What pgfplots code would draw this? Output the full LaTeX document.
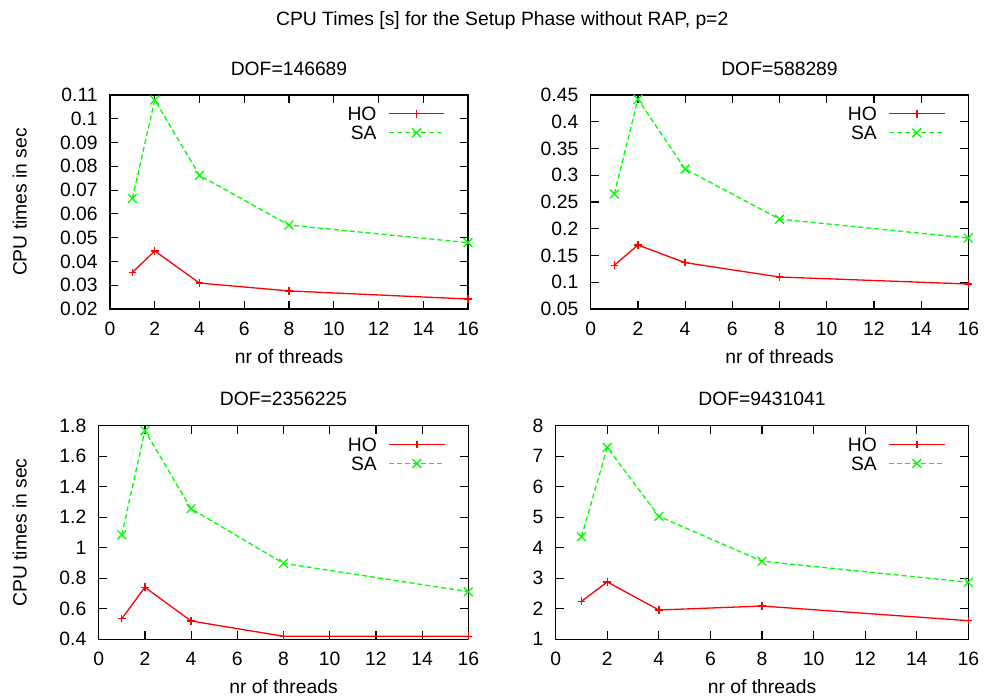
\documentclass[border=0pt]{standalone}
\usepackage{fontspec}
\setmainfont{Liberation Sans}
\usepackage{pgfplots}
\pgfplotsset{compat=1.18}
\definecolor{gpred}{RGB}{255,0,0}
\definecolor{gpgreen}{RGB}{0,255,0}
\pgfplotsset{
  gp/.style={
    scale only axis,
    clip=false,
    xmin=0, xmax=16,
    xtick={0,2,4,6,8,10,12,14,16},
    xticklabels={0,2,4,6,8,10,12,14,16},
    tick align=inside,
    major tick length=4pt,
    minor tick num=0,
    axis line style={line width=0.6pt},
    every tick/.style={black, line width=0.6pt},
    xticklabel style={anchor=base, yshift=-13.3pt, inner sep=0pt},
    yticklabel style={anchor=east, xshift=-6pt, inner sep=0pt},
    /pgf/number format/assume math mode=true,
    xlabel={nr of threads},
    xlabel style={at={([yshift=-27.15pt]axis description cs:0.5,0)}, anchor=base},
    title style={at={([yshift=3.95pt]axis description cs:0.5,1)}, anchor=base, inner sep=0pt},
    legend plot pos=right,
    legend cell align=right,
    legend style={draw=none, fill=none, inner sep=0pt, outer sep=0pt,
      at={(1,1)}, anchor=north east, xshift=-11.5pt, yshift=-5.9pt,
      row sep=2.5pt, column sep=0pt,
      nodes={inner sep=0pt, text height=7pt, text depth=0pt},
      /tikz/every odd column/.style={column sep=5.8pt}},
    legend image code/.code={\draw[mark repeat=2,mark phase=2,##1] plot coordinates {(0pt,0pt) (13.9pt,0pt) (27.8pt,0pt)};},
  },
  ho/.style={draw=gpred, color=gpred, line width=0.65pt, mark=+, mark size=1.9pt, mark options={solid, draw=gpred}},
  sa/.style={draw=gpgreen, color=gpgreen, line width=0.65pt, dash pattern=on 2.5pt off 1.5pt, mark=x, mark size=3.1pt, mark options={solid, draw=gpgreen}},
}
\begin{document}
\fontsize{9.65pt}{11.5pt}\selectfont
\begin{tikzpicture}
\path[use as bounding box] (0pt,0pt) rectangle (492pt,349.5pt);
\node[anchor=base] at (251.1pt,336.85pt) {CPU Times [s] for the Setup Phase without RAP, p=2};

\begin{axis}[gp, at={(55pt,195pt)}, anchor=south west, width=179pt, height=107pt,
  title={DOF=146689},
  ymin=0.02, ymax=0.11,
  ytick={0.02,0.03,0.04,0.05,0.06,0.07,0.08,0.09,0.1,0.11},
  yticklabels={0.02,0.03,0.04,0.05,0.06,0.07,0.08,0.09,0.1,0.11},
  ylabel={CPU times in sec},
  ylabel style={at={([xshift=-41.75pt]axis description cs:0,0.5)}, anchor=base},
]
\addplot[ho] coordinates {(1,0.0354) (2,0.0444) (4,0.0309) (8,0.0276) (16,0.0242)};
\addlegendentry{HO}
\addplot[sa] coordinates {(1,0.0665) (2,0.1079) (4,0.0762) (8,0.0553) (16,0.0479)};
\addlegendentry{SA}
\end{axis}

\begin{axis}[gp, at={(295.35pt,195pt)}, anchor=south west, width=188.8pt, height=107pt,
  title={DOF=588289},
  ymin=0.05, ymax=0.45,
  ytick={0.05,0.1,0.15,0.2,0.25,0.3,0.35,0.4,0.45},
  yticklabels={0.05,0.1,0.15,0.2,0.25,0.3,0.35,0.4,0.45},
]
\addplot[ho] coordinates {(1,0.1317) (2,0.1696) (4,0.1366) (8,0.1098) (16,0.0967)};
\addlegendentry{HO}
\addplot[sa] coordinates {(1,0.265) (2,0.442) (4,0.3117) (8,0.218) (16,0.1827)};
\addlegendentry{SA}
\end{axis}

\begin{axis}[gp, at={(49.35pt,29.85pt)}, anchor=south west, width=184.8pt, height=106.8pt,
  title={DOF=2356225},
  ymin=0.4, ymax=1.8,
  ytick={0.4,0.6,0.8,1,1.2,1.4,1.6,1.8},
  yticklabels={0.4,0.6,0.8,1,1.2,1.4,1.6,1.8},
  ylabel={CPU times in sec},
  ylabel style={at={([xshift=-36.1pt]axis description cs:0,0.5)}, anchor=base},
]
\addplot[ho] coordinates {(1,0.535) (2,0.741) (4,0.52) (8,0.42) (16,0.42)};
\addlegendentry{HO}
\addplot[sa] coordinates {(1,1.085) (2,1.767) (4,1.256) (8,0.898) (16,0.712)};
\addlegendentry{SA}
\end{axis}

\begin{axis}[gp, at={(277.85pt,29.85pt)}, anchor=south west, width=206.3pt, height=106.8pt,
  title={DOF=9431041},
  ymin=1, ymax=8,
  ytick={1,2,3,4,5,6,7,8},
  yticklabels={1,2,3,4,5,6,7,8},
]
\addplot[ho] coordinates {(1,2.246) (2,2.88) (4,1.96) (8,2.09) (16,1.61)};
\addlegendentry{HO}
\addplot[sa] coordinates {(1,4.36) (2,7.29) (4,5.03) (8,3.56) (16,2.87)};
\addlegendentry{SA}
\end{axis}
\end{tikzpicture}
\end{document}
